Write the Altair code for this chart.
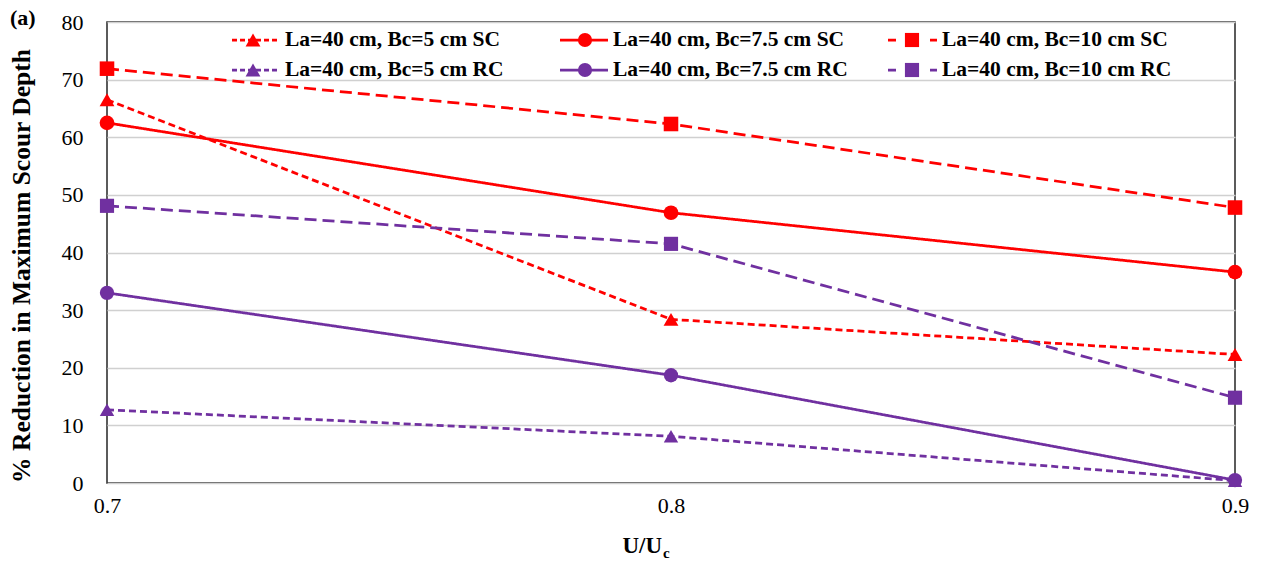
import altair as alt
import pandas as pd

# ---- data ----
x_vals = [0.7, 0.8, 0.9]
series_names = [
    "La=40 cm, Bc=5 cm SC", "La=40 cm, Bc=7.5 cm SC", "La=40 cm, Bc=10 cm SC",
    "La=40 cm, Bc=5 cm RC", "La=40 cm, Bc=7.5 cm RC", "La=40 cm, Bc=10 cm RC",
]
sc_bc5 = [66.5, 28.4, 22.3]
sc_bc75 = [62.5, 46.9, 36.6]
sc_bc10 = [71.9, 62.3, 47.8]
rc_bc5 = [12.7, 8.1, 0.4]
rc_bc75 = [33.0, 18.7, 0.5]
rc_bc10 = [48.1, 41.5, 14.8]
y_ticks = [0, 10, 20, 30, 40, 50, 60, 70, 80]

all_vals = [sc_bc5, sc_bc75, sc_bc10, rc_bc5, rc_bc75, rc_bc10]
rows = []
for name, vals in zip(series_names, all_vals):
    for xv, yv in zip(x_vals, vals):
        rows.append({"x": xv, "y": yv, "series": name})
df = pd.DataFrame(rows)

# ---- styles ----
RED = "#FF0000"
PURPLE = "#7030A0"
colors = [RED, RED, RED, PURPLE, PURPLE, PURPLE]
dashes = [[7, 4], [1, 0], [12, 6], [7, 4], [1, 0], [12, 6]]
shapes = ["triangle-up", "circle", "square"] * 2
sizes = [220, 200, 200] * 2
FONT = "Liberation Serif"

color_scale = alt.Scale(domain=series_names, range=colors)
dash_scale = alt.Scale(domain=series_names, range=dashes)
shape_scale = alt.Scale(domain=series_names, range=shapes)
size_scale = alt.Scale(domain=series_names, range=sizes)

xenc = alt.X("x:Q", scale=alt.Scale(domain=[0.7, 0.9], nice=False, zero=False),
             axis=alt.Axis(values=x_vals, format=".1f", title=None, grid=False,
                           ticks=False, domain=False, labelFont=FONT, labelFontSize=22,
                           labelColor="#000000", labelPadding=12, labelFlush=False))
yenc = alt.Y("y:Q", scale=alt.Scale(domain=[0, 80], nice=False),
             axis=alt.Axis(values=y_ticks, title=None, grid=True, gridColor="#D0D0D0",
                           gridWidth=1.3, ticks=False, domain=False, labelFont=FONT,
                           labelFontSize=22, labelColor="#000000", labelPadding=24,
                           labelFlush=False))

lines = alt.Chart(df).mark_line(strokeWidth=2.75).encode(
    x=xenc, y=yenc,
    color=alt.Color("series:N", scale=color_scale, legend=None),
    strokeDash=alt.StrokeDash("series:N", scale=dash_scale, legend=None),
    detail="series:N",
)
points = alt.Chart(df).mark_point(filled=True, opacity=1).encode(
    x="x:Q", y="y:Q",
    color=alt.Color("series:N", scale=color_scale, legend=None),
    shape=alt.Shape("series:N", scale=shape_scale, legend=None),
    size=alt.Size("series:N", scale=size_scale, legend=None),
)

layers = [lines, points]

# ---- manual legend (3 columns x 2 rows) ----
line_x0 = [125, 453, 781]
line_x1 = [173, 501, 830]
marker_x = [146, 478, 805]
text_x = [178, 506, 835]
row_y = [18, 48]
legend_dash = [[5, 3], [1, 0], [8, 34]]
for i, name in enumerate(series_names):
    r, c = i // 3, i % 3
    ldf = pd.DataFrame({"label": [name]})
    layers.append(alt.Chart(ldf).mark_rule(strokeWidth=2.75, color=colors[i],
                                           strokeDash=legend_dash[c]).encode(
        x=alt.value(line_x0[c]), x2=alt.value(line_x1[c]), y=alt.value(row_y[r])))
    layers.append(alt.Chart(ldf).mark_point(filled=True, opacity=1, color=colors[i],
                                            shape=shapes[i], size=sizes[i]).encode(
        x=alt.value(marker_x[c]), y=alt.value(row_y[r])))
    layers.append(alt.Chart(ldf).mark_text(align="left", baseline="middle", font=FONT,
                                           fontWeight="bold", fontSize=21.5,
                                           color="#000000").encode(
        x=alt.value(text_x[c]), y=alt.value(row_y[r]), text="label:N"))

# ---- titles as text ----
tdf = pd.DataFrame({"t": ["% Reduction in Maximum Scour Depth"]})
layers.append(alt.Chart(tdf).mark_text(angle=270, align="center", baseline="middle",
                                       font=FONT, fontWeight="bold", fontSize=25.5,
                                       color="#000000").encode(
    x=alt.value(-85), y=alt.value(244), text="t:N"))
xdf = pd.DataFrame({"t": ["U/U"]})
layers.append(alt.Chart(xdf).mark_text(align="right", baseline="alphabetic",
                                       font=FONT, fontWeight="bold", fontSize=23,
                                       color="#000000").encode(
    x=alt.value(555), y=alt.value(531), text="t:N"))
cdf = pd.DataFrame({"t": ["c"]})
layers.append(alt.Chart(cdf).mark_text(align="left", baseline="alphabetic",
                                       font=FONT, fontWeight="bold", fontSize=15,
                                       color="#000000").encode(
    x=alt.value(556), y=alt.value(536), text="t:N"))
adf = pd.DataFrame({"t": ["(a)"]})
layers.append(alt.Chart(adf).mark_text(align="left", baseline="middle",
                                       font=FONT, fontWeight="bold", fontSize=22,
                                       color="#000000").encode(
    x=alt.value(-97), y=alt.value(-4), text="t:N"))

chart = alt.layer(*layers).properties(
    width=1128, height=461,
    autosize=alt.AutoSizeParams(type="none"),
    padding={"left": 107, "top": 22, "right": 31, "bottom": 79},
    background="#FFFFFF",
).configure_view(stroke="#262626", strokeWidth=1.5)

chart.save("out.html", embed_options={"renderer": "svg", "actions": False})
